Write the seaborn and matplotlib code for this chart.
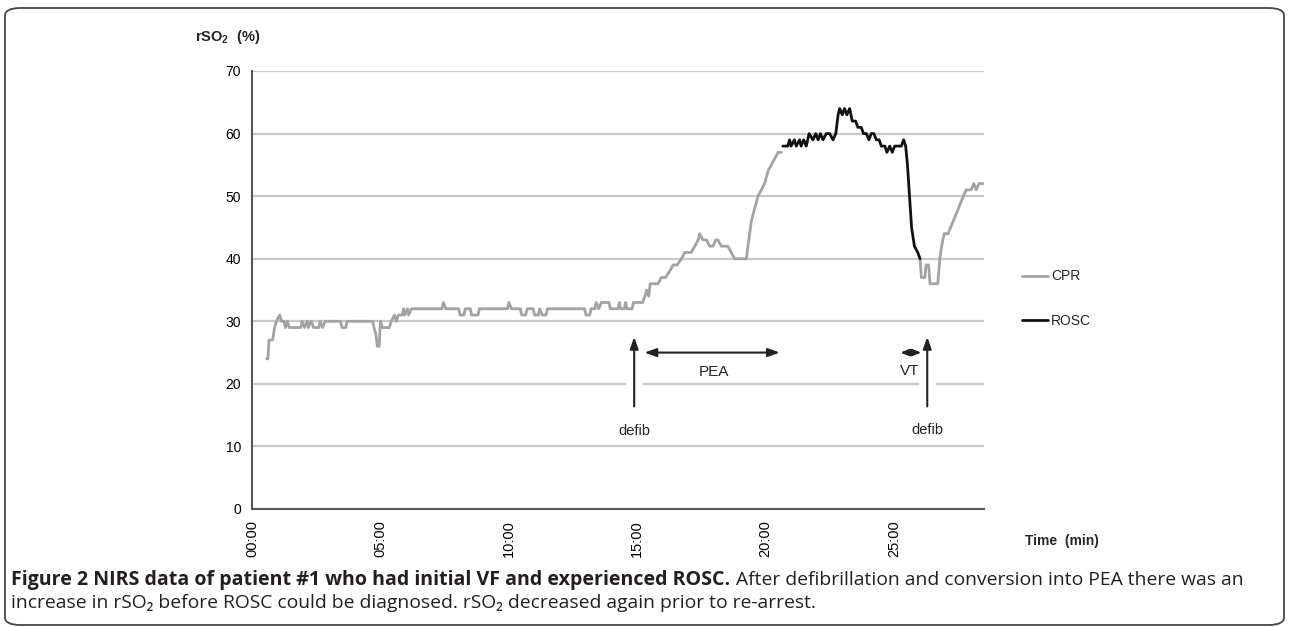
import numpy as np
import pandas as pd
import matplotlib
matplotlib.use('Agg')
import matplotlib.pyplot as plt
from matplotlib.lines import Line2D
from matplotlib.patches import FancyBboxPatch
import seaborn as sns

# NIRS trace: time in minutes, rSO2 in %
cpr1_time = [0.57, 0.62, 0.66, 0.80, 0.88, 0.95, 1.08, 1.15, 1.25, 1.30, 1.38, 1.45, 1.90, 1.95,
             2.05, 2.15, 2.20, 2.30, 2.40, 2.60, 2.65, 2.75, 2.85, 3.45, 3.50, 3.65, 3.70, 4.70,
             4.75, 4.82, 4.88, 4.95, 5.00, 5.08, 5.35, 5.42, 5.55, 5.62, 5.70, 5.85, 5.90, 5.95,
             6.05, 6.10, 6.20, 7.40, 7.45, 7.55, 8.05, 8.10, 8.25, 8.30, 8.50, 8.55, 8.80, 8.85,
             9.95, 10.00, 10.10, 10.45, 10.50, 10.65, 10.72, 10.95, 11.00, 11.15, 11.20, 11.30,
             11.45, 11.50, 12.95, 13.00, 13.15, 13.20, 13.35, 13.40, 13.50, 13.60, 13.90, 13.95,
             14.25, 14.30, 14.35, 14.50, 14.55, 14.60, 14.80, 14.85, 15.20, 15.30, 15.36, 15.45,
             15.50, 15.81, 15.94, 16.10, 16.26, 16.39, 16.55, 16.72, 16.85, 17.10, 17.24, 17.37,
             17.43, 17.56, 17.70, 17.82, 17.95, 18.05, 18.14, 18.27, 18.53, 18.66, 18.79, 19.25,
             19.31, 19.44, 19.57, 19.70, 19.83, 19.96, 20.09, 20.22, 20.35, 20.48, 20.61]
cpr1_value = [24, 24, 27, 27, 29, 30, 31, 30, 30, 29, 30, 29, 29, 30,
              29, 30, 29, 30, 29, 29, 30, 29, 30, 30, 29, 29, 30, 30,
              29, 28, 26, 26, 30, 29, 29, 30, 31, 30, 31, 31, 32, 31,
              32, 31, 32, 32, 33, 32, 32, 31, 31, 32, 32, 31, 31, 32,
              32, 33, 32, 32, 31, 31, 32, 32, 31, 31, 32, 31,
              31, 32, 32, 31, 31, 32, 32, 33, 32, 33, 33, 32,
              32, 33, 32, 32, 33, 32, 32, 33, 33, 34, 35, 34,
              36, 36, 37, 37, 38, 39, 39, 40, 41, 41, 42, 43,
              44, 43, 43, 42, 42, 43, 43, 42, 42, 41, 40, 40,
              42, 46, 48, 50, 51, 52, 54, 55, 56, 57, 57]

rosc_time = [20.67, 20.86, 20.93, 20.99, 21.12, 21.19, 21.32, 21.38, 21.48, 21.58, 21.69, 21.84,
             21.95, 22.04, 22.13, 22.23, 22.36, 22.49, 22.62, 22.73, 22.82, 22.88, 22.98, 23.07,
             23.16, 23.27, 23.37, 23.50, 23.59, 23.72, 23.81, 23.92, 24.02, 24.11, 24.21, 24.31,
             24.42, 24.50, 24.64, 24.72, 24.83, 24.93, 25.02, 25.15, 25.28, 25.37, 25.45, 25.52,
             25.60, 25.68, 25.79, 25.92, 26.01]
rosc_value = [58, 58, 59, 58, 59, 58, 59, 58, 59, 58, 60, 59,
              60, 59, 60, 59, 60, 60, 59, 60, 63, 64, 63, 64,
              63, 64, 62, 62, 61, 61, 60, 60, 59, 60, 60, 59,
              59, 58, 58, 57, 58, 57, 58, 58, 58, 59, 58, 55,
              50, 45, 42, 41, 40]

cpr2_time = [26.01, 26.06, 26.20, 26.24, 26.34, 26.40, 26.70, 26.78, 26.85, 26.95, 27.10, 27.20,
             27.30, 27.40, 27.50, 27.60, 27.70, 27.80, 28.00, 28.10, 28.20, 28.30, 28.48]
cpr2_value = [40, 37, 37, 39, 39, 36, 36, 40, 42, 44, 44, 45,
              46, 47, 48, 49, 50, 51, 51, 52, 51, 52, 52]

x_ticks = [0, 5, 10, 15, 20, 25]
x_ticklabels = ['00:00', '05:00', '10:00', '15:00', '20:00', '25:00']
y_ticks = [0, 10, 20, 30, 40, 50, 60, 70]

df = pd.concat([
    pd.DataFrame({'time': cpr1_time, 'rso2': cpr1_value, 'phase': 'CPR', 'seg': 1}),
    pd.DataFrame({'time': rosc_time, 'rso2': rosc_value, 'phase': 'ROSC', 'seg': 2}),
    pd.DataFrame({'time': cpr2_time, 'rso2': cpr2_value, 'phase': 'CPR', 'seg': 3}),
], ignore_index=True)

sns.set_style('white')
plt.rcParams['font.family'] = ['Liberation Sans', 'DejaVu Sans']
plt.rcParams['mathtext.fontset'] = 'custom'
plt.rcParams['mathtext.rm'] = 'Liberation Sans'
plt.rcParams['mathtext.bf'] = 'Liberation Sans:bold'

colors = {'CPR': '#a3a3a3', 'ROSC': '#111111'}
axis_col = '#555555'

fig = plt.figure(figsize=(12.89, 6.27), dpi=100)
ax = fig.add_axes([252 / 1289, 1 - 509 / 627, 732 / 1289, 438 / 627])

sns.lineplot(data=df, x='time', y='rso2', hue='phase', units='seg', estimator=None,
             palette=colors, linewidth=2.0, legend=False, ax=ax, zorder=3)

ax.set_xlim(0, 28.5)
ax.set_ylim(0, 70)
ax.set_xticks(x_ticks)
ax.set_xticklabels(x_ticklabels, rotation=90)
ax.set_yticks(y_ticks)
ax.yaxis.grid(True, color='#c8c8c8', linewidth=1.6)
ax.set_axisbelow(True)
ax.set_xlabel('')
ax.set_ylabel('')
for s in ['top', 'right']:
    ax.spines[s].set_visible(False)
for s in ['left', 'bottom']:
    ax.spines[s].set_color(axis_col)
    ax.spines[s].set_linewidth(1.5)
ax.tick_params(axis='both', colors=axis_col, labelcolor='black',
               length=4, width=1.2, direction='out', pad=4)
ax.tick_params(axis='y', labelsize=10)
ax.tick_params(axis='x', labelsize=10.5)

# event annotations
head = dict(color='#222222', lw=1.5, shrinkA=0, shrinkB=0)
for xe, lab_y in [(14.88, 12.4), (26.29, 12.6)]:
    ax.annotate('', xy=(xe, 27.5), xytext=(xe, 16.4),
                arrowprops=dict(arrowstyle='-|>,head_length=0.7,head_width=0.25', **head),
                zorder=4)
    ax.plot([xe, xe], [19.0, 21.0], color='white', lw=12, solid_capstyle='butt', zorder=2)
    ax.text(xe, lab_y, 'defib', ha='center', va='center', fontsize=10.5)

ax.annotate('', xy=(20.55, 25), xytext=(15.28, 25),
            arrowprops=dict(arrowstyle='<|-|>,head_length=0.7,head_width=0.25', **head), zorder=5)
ax.text(18.0, 21.9, 'PEA', ha='center', va='center', fontsize=11)
ax.annotate('', xy=(26.06, 25), xytext=(25.24, 25),
            arrowprops=dict(arrowstyle='<|-|>,head_length=0.5,head_width=0.2', **head), zorder=5)
ax.text(25.62, 22.1, 'VT', ha='center', va='center', fontsize=11)

handles = [Line2D([], [], color=colors['CPR'], lw=2), Line2D([], [], color=colors['ROSC'], lw=2)]
ax.legend(handles, ['CPR', 'ROSC'], loc='center left', bbox_to_anchor=(1.052, 0.48),
          frameon=False, handlelength=1.9, handletextpad=0.2, labelspacing=2.2,
          borderpad=0, borderaxespad=0, fontsize=10)

fig.text(195 / 1289, 1 - 37 / 627, r'$\mathbf{rSO_2}$  (%)', fontsize=10.5, fontweight='bold',
         ha='left', va='center')
fig.text(1025 / 1289, 1 - 541 / 627, 'Time  (min)', fontsize=10, fontweight='bold',
         ha='left', va='center')

# caption under the chart, sized so its first words span the same width as the original
cap_font = ['Open Sans', 'DejaVu Sans']
renderer = fig.canvas.get_renderer()


def text_width(s, **kw):
    t = fig.text(0, 0, s, family=cap_font, fontsize=10, **kw)
    w = t.get_window_extent(renderer).width
    t.remove()
    return w


size_b = 10 * 409 / text_width('Figure 2 NIRS data of patient #1 who had i', fontweight='bold')
size_r = 10 * 409 / text_width('increase in rSO\u2082 before ROSC could be diagno')

t1 = fig.text(11 / 1289, 1 - 585 / 627,
              'Figure 2 NIRS data of patient #1 who had initial VF and experienced ROSC.',
              family=cap_font, fontweight='bold', fontsize=size_b, color='#231f20', va='baseline')
bb = t1.get_window_extent(renderer)
fig.text((bb.x1 + 6) / 1289, 1 - 585 / 627,
         'After defibrillation and conversion into PEA there was an',
         family=cap_font, fontsize=size_r, color='#231f20', va='baseline')
fig.text(11 / 1289, 1 - 608 / 627,
         'increase in rSO\u2082 before ROSC could be diagnosed. rSO\u2082 decreased again prior to re-arrest.',
         family=cap_font, fontsize=size_r, color='#231f20', va='baseline')

frame = FancyBboxPatch((5 / 1289, 2 / 627), 1279 / 1289, 617 / 627,
                       boxstyle='round,pad=0,rounding_size=0.012', transform=fig.transFigure,
                       fill=False, edgecolor='#444444', lw=1.3)
fig.patches.append(frame)

fig.savefig('out.png', dpi=100)
